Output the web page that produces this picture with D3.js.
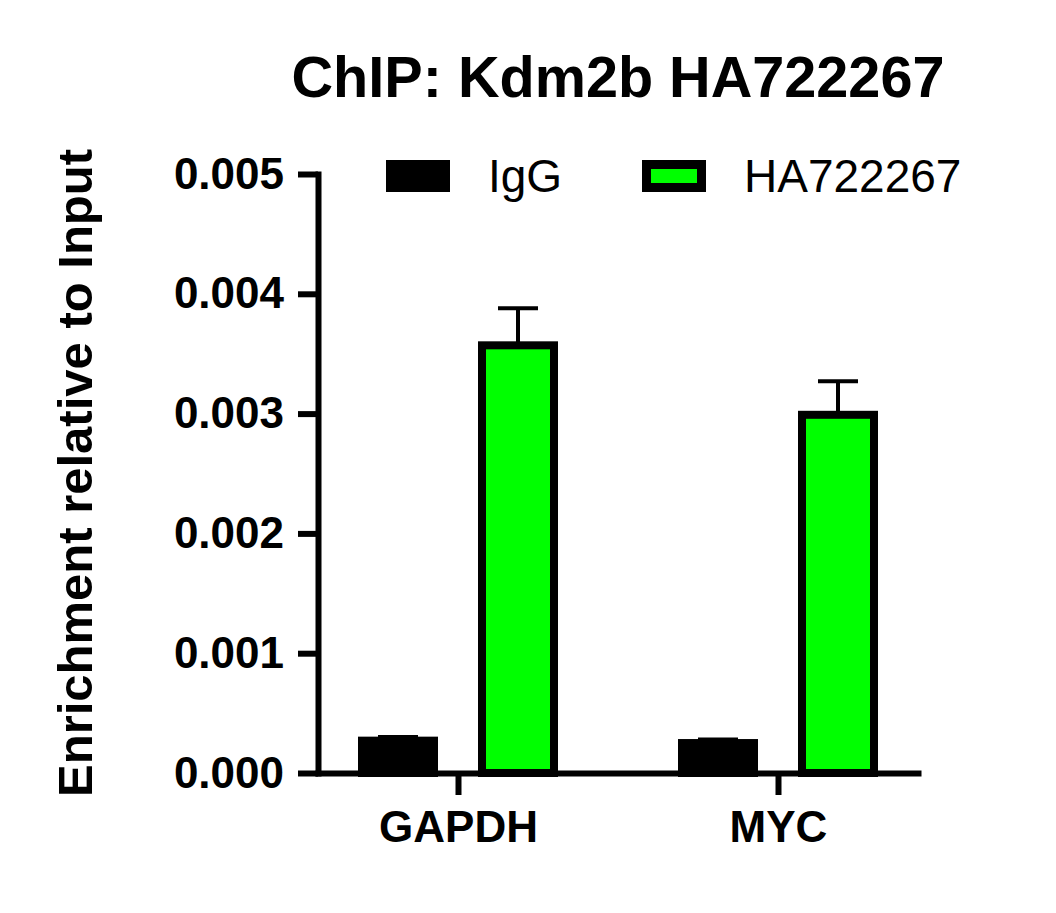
<!DOCTYPE html>
<html>
<head>
<meta charset="utf-8">
<script src="https://cdn.jsdelivr.net/npm/d3@7"></script>
<style>
  html, body { margin: 0; padding: 0; background: #fff; }
  svg { display: block; font-family: "Liberation Sans", Arial, Helvetica, sans-serif; }
</style>
</head>
<body>
<svg id="chart" width="1056" height="913"></svg>
<script>
// ---- data ----
const categories = ["GAPDH", "MYC"];
const seriesNames = ["IgG", "HA722267"];
const seriesColors = ["#000000", "#00ff00"];
const iggValues = [0.00027, 0.00025];
const iggErrors = [0.00003, 0.00003];
const haValues = [0.00357, 0.00299];
const haErrors = [0.00031, 0.00028];
const yTicks = [0, 0.001, 0.002, 0.003, 0.004, 0.005];
const titleText = "ChIP: Kdm2b HA722267";
const yLabelText = "Enrichment relative to Input";

const values = [iggValues, haValues];
const errors = [iggErrors, haErrors];

const svg = d3.select("#chart");

// ---- scales ----
const y = d3.scaleLinear().domain([0, 0.005]).range([773, 174]);
const x = d3.scalePoint().domain(categories).range([318, 918]).padding(0.4375);
const xInner = d3.scaleBand().domain(seriesNames).range([-56, 136]).paddingInner(0.4).paddingOuter(0);

const barStroke = 8;

// ---- error bars (behind bars) ----
seriesNames.forEach((s, si) => {
  categories.forEach((c, ci) => {
    const cx = x(c) + xInner(s) + xInner.bandwidth() / 2 - 40;
    const v = values[si][ci], e = errors[si][ci];
    svg.append("line")
      .attr("x1", cx).attr("x2", cx)
      .attr("y1", y(v)).attr("y2", y(v + e))
      .attr("stroke", "#000").attr("stroke-width", 4);
    svg.append("line")
      .attr("x1", cx - 20).attr("x2", cx + 20)
      .attr("y1", y(v + e)).attr("y2", y(v + e))
      .attr("stroke", "#000").attr("stroke-width", 4);
  });
});

// ---- bars ----
seriesNames.forEach((s, si) => {
  svg.append("g").selectAll("rect")
    .data(categories.map((c, ci) => ({ c, v: values[si][ci] })))
    .join("rect")
    .attr("x", d => x(d.c) + xInner(s) - 40)
    .attr("width", xInner.bandwidth())
    .attr("y", d => y(d.v))
    .attr("height", d => y(0) - y(d.v))
    .attr("fill", seriesColors[si])
    .attr("stroke", "#000")
    .attr("stroke-width", barStroke);
});

// ---- axes ----
const yAxis = d3.axisLeft(y).tickValues(yTicks).tickFormat(d3.format(".3f")).tickSize(20).tickSizeOuter(0).tickPadding(14);
const gy = svg.append("g").attr("transform", "translate(318,0)").call(yAxis);
gy.select(".domain").attr("stroke-width", 6).attr("stroke-linecap", "square");
gy.selectAll(".tick line").attr("stroke-width", 6);
gy.selectAll(".tick text").attr("font-size", 44).attr("font-weight", "bold").attr("fill", "#000")
  .attr("font-family", "'Liberation Sans', Arial, sans-serif");

const xAxis = d3.axisBottom(x).tickSize(22).tickSizeOuter(0).tickPadding(16);
const gx = svg.append("g").attr("transform", "translate(0,773)").call(xAxis);
gx.select(".domain").attr("stroke-width", 6).attr("stroke-linecap", "square");
gx.selectAll(".tick line").attr("stroke-width", 6);
gx.selectAll(".tick text").attr("font-size", 44).attr("font-weight", "bold").attr("fill", "#000")
  .attr("font-family", "'Liberation Sans', Arial, sans-serif");

// ---- title ----
svg.append("text")
  .attr("x", 618).attr("y", 97)
  .attr("text-anchor", "middle")
  .attr("font-size", 57.6).attr("font-weight", "bold")
  .text(titleText);

// ---- y label ----
svg.append("text")
  .attr("transform", "translate(92,473) rotate(-90)")
  .attr("text-anchor", "middle")
  .attr("font-size", 49).attr("font-weight", "bold")
  .text(yLabelText);

// ---- legend ----
const legendX = [386, 642];
const legend = svg.append("g");
seriesNames.forEach((s, i) => {
  legend.append("rect")
    .attr("x", legendX[i] + 4.5).attr("y", 164.5)
    .attr("width", 55).attr("height", 23)
    .attr("fill", seriesColors[i]).attr("stroke", "#000").attr("stroke-width", 9);
  legend.append("text")
    .attr("x", legendX[i] + 102).attr("y", 192)
    .attr("font-size", 46)
    .text(s);
});
</script>
</body>
</html>
